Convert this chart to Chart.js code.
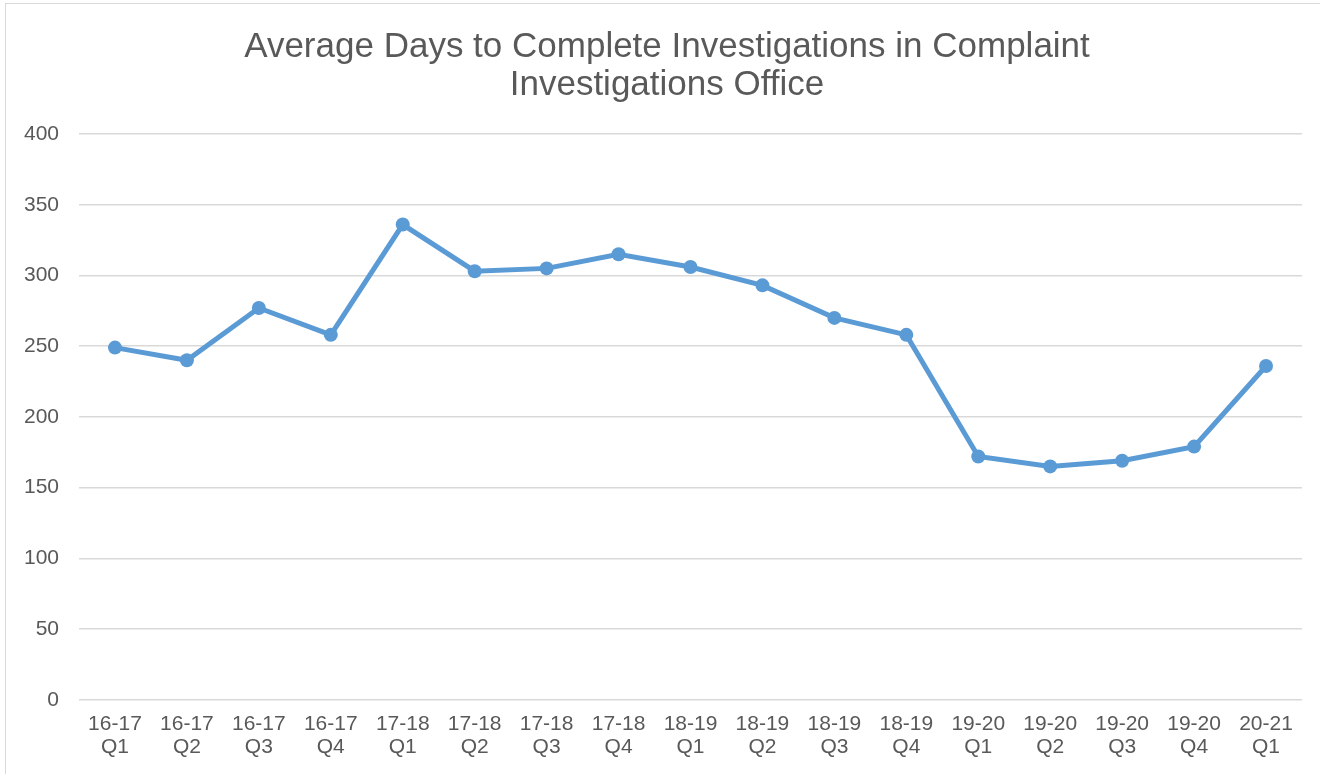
<!DOCTYPE html>
<html>
<head>
<meta charset="utf-8">
<script src="https://cdn.jsdelivr.net/npm/chart.js@4/dist/chart.umd.min.js"></script>
<style>
  html, body { margin: 0; padding: 0; background: #fff; }
  #wrap { position: absolute; left: 0; top: 0; width: 1320px; height: 774px; }
  #frame { position: absolute; left: 5px; top: 3px; width: 1330px; height: 790px; border: 1px solid #d9d9d9; box-sizing: border-box; }
</style>
</head>
<body>
<div id="wrap">
  <div id="frame"></div>
  <canvas id="chart" width="1320" height="774"></canvas>
</div>
<script>
// quarters shown on the x axis (two-line labels)
const quarters = [
  ['16-17', 'Q1'], ['16-17', 'Q2'], ['16-17', 'Q3'], ['16-17', 'Q4'],
  ['17-18', 'Q1'], ['17-18', 'Q2'], ['17-18', 'Q3'], ['17-18', 'Q4'],
  ['18-19', 'Q1'], ['18-19', 'Q2'], ['18-19', 'Q3'], ['18-19', 'Q4'],
  ['19-20', 'Q1'], ['19-20', 'Q2'], ['19-20', 'Q3'], ['19-20', 'Q4'],
  ['20-21', 'Q1']
];
const avgDays = [249, 240, 277, 258, 336, 303, 305, 315, 306, 293, 270, 258, 172, 165, 169, 179, 236];
const yTicks = [0, 50, 100, 150, 200, 250, 300, 350, 400];

const txt = '#595959';
const blue = '#5B9BD5';
const fam = 'Liberation Sans, Arial, sans-serif';

new Chart(document.getElementById('chart'), {
  type: 'line',
  data: {
    labels: quarters,
    datasets: [{
      label: 'Average Days',
      data: avgDays,
      borderColor: blue,
      backgroundColor: blue,
      borderWidth: 5,
      pointRadius: 7,
      pointHoverRadius: 7,
      pointBorderWidth: 0,
      tension: 0
    }]
  },
  options: {
    responsive: false,
    animation: false,
    // small right padding + empty right axis keeps the title centred like the original
    layout: { padding: { left: 18, right: 4, top: 28, bottom: 10 } },
    plugins: {
      legend: { display: false },
      tooltip: { enabled: false },
      title: {
        display: true,
        text: ['Average Days to Complete Investigations in Complaint', 'Investigations Office'],
        color: txt,
        font: { family: fam, size: 35, weight: 'normal', lineHeight: 1.1 },
        padding: { top: 0, bottom: 29 }
      }
    },
    scales: {
      x: {
        offset: true,
        grid: { display: false },
        border: { display: false },
        ticks: {
          color: txt,
          font: { family: fam, size: 21, lineHeight: 1.1 },
          maxRotation: 0,
          autoSkip: false,
          padding: 5
        }
      },
      y: {
        min: 0,
        max: 400,
        afterBuildTicks: axis => { axis.ticks = yTicks.map(v => ({ value: v })); },
        afterFit: axis => { axis.width = 61; },
        grid: { color: '#d9d9d9', lineWidth: 1.5, drawTicks: false },
        border: { display: false },
        ticks: {
          color: txt,
          font: { family: fam, size: 21 },
          padding: 20
        }
      },
      spacer: {
        position: 'right',
        grid: { display: false },
        border: { display: false },
        ticks: { display: false },
        afterFit: axis => { axis.width = 14; }
      }
    }
  }
});
</script>
</body>
</html>
